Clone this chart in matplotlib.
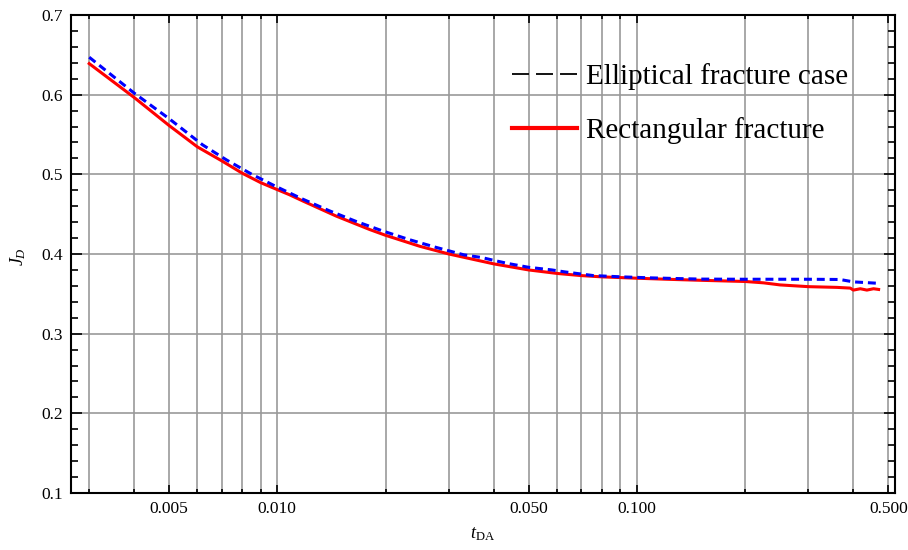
import numpy as np
import matplotlib
matplotlib.use('Agg')
import matplotlib.pyplot as plt
from matplotlib.lines import Line2D
from matplotlib.ticker import FixedLocator, FixedFormatter, MultipleLocator, NullFormatter

plt.rcParams['font.family'] = 'Liberation Serif'
plt.rcParams['mathtext.fontset'] = 'custom'
plt.rcParams['mathtext.rm'] = 'Liberation Serif'
plt.rcParams['mathtext.it'] = 'Liberation Serif:italic'

# dimensionless time vs productivity index
t_ellip = [0.003, 0.004, 0.005, 0.0062, 0.00723, 0.0085, 0.00985, 0.0117, 0.0139,
           0.0165, 0.0195, 0.0233, 0.0276, 0.03, 0.033, 0.0371, 0.04, 0.0439, 0.05,
           0.058, 0.0631, 0.0757, 0.0908, 0.11, 0.132, 0.15, 0.2, 0.3, 0.367, 0.4, 0.47]
jd_ellip = [0.647, 0.602, 0.570, 0.537, 0.518, 0.500, 0.4854, 0.4694, 0.4546,
            0.4412, 0.4294, 0.418, 0.4084, 0.404, 0.399, 0.3955, 0.392, 0.388, 0.3833,
            0.380, 0.3775, 0.3729, 0.3713, 0.370, 0.3691, 0.3685, 0.3683, 0.3683,
            0.3680, 0.3650, 0.3632]

t_rect = [0.003, 0.004, 0.005, 0.006, 0.007, 0.008, 0.009, 0.0108, 0.0118, 0.0146,
          0.0181, 0.02, 0.0249, 0.03, 0.04, 0.05, 0.06, 0.07, 0.08,
          0.1, 0.121, 0.15, 0.2, 0.225, 0.25, 0.3, 0.36, 0.392, 0.40, 0.418, 0.436,
          0.455, 0.47]
jd_rect = [0.639, 0.5965, 0.5614, 0.5344, 0.5171, 0.5013, 0.4895, 0.4745, 0.4664,
           0.4475, 0.4306, 0.4235, 0.4097, 0.400, 0.3876, 0.380, 0.3756, 0.3729,
           0.3713, 0.3696, 0.3683, 0.367, 0.3655, 0.3638, 0.3612, 0.359, 0.3581,
           0.3572, 0.3547, 0.3564, 0.3547, 0.3564, 0.3555]

x_major = [0.005, 0.01, 0.05, 0.1, 0.5]
x_major_labels = ['0.005', '0.010', '0.050', '0.100', '0.500']
x_grid = [0.003, 0.004, 0.005, 0.006, 0.007, 0.008, 0.009, 0.01, 0.02, 0.03, 0.04,
          0.05, 0.06, 0.07, 0.08, 0.09, 0.1, 0.2, 0.3, 0.4, 0.5]

fig = plt.figure(figsize=(9.08, 5.5), dpi=100)
ax = fig.add_axes([71 / 908, 57 / 550, 824 / 908, 478 / 550])

ax.set_xscale('log')
ax.set_xlim(0.00267, 0.522)
ax.set_ylim(0.1, 0.7)

for xv in x_grid:
    ax.axvline(xv, color='#999999', lw=1.2, zorder=1)
for yv in np.arange(0.2, 0.65, 0.1):
    ax.axhline(yv, color='#999999', lw=1.2, zorder=1)

ax.plot(t_rect, jd_rect, color='#ff0000', lw=2.2, zorder=3)
ax.plot(t_ellip, jd_ellip, color='#0000ff', lw=2.2, ls=(0, (2.6, 1.6)), zorder=4)

ax.xaxis.set_major_locator(FixedLocator(x_major))
ax.xaxis.set_major_formatter(FixedFormatter(x_major_labels))
ax.xaxis.set_minor_locator(FixedLocator([v for v in x_grid if v not in x_major]))
ax.xaxis.set_minor_formatter(NullFormatter())
ax.yaxis.set_major_locator(MultipleLocator(0.1))
ax.yaxis.set_minor_locator(MultipleLocator(0.02))
ax.yaxis.set_major_formatter(matplotlib.ticker.FormatStrFormatter('%.1f'))

ax.tick_params(which='both', direction='in', top=True, right=True, width=1.2,
               color='black', labelsize=12.5)
ax.tick_params(axis='x', which='major', length=6, pad=6)
ax.tick_params(axis='x', which='minor', length=3)
ax.tick_params(axis='y', which='major', length=8, pad=6)
ax.tick_params(axis='y', which='minor', length=5)
for sp in ax.spines.values():
    sp.set_linewidth(1.5)
    sp.set_zorder(5)

ax.set_xlabel(r'$t_{\mathrm{DA}}$', fontsize=13)
ax.xaxis.set_label_coords(0.5, -0.068)
ax.set_ylabel(r'$J_D$', fontsize=13)
ax.yaxis.set_label_coords(-0.052, 0.494)

handles = [Line2D([], [], color='black', lw=1.3, ls=(0, (9.4, 3.9))),
           Line2D([], [], color='#ff0000', lw=3)]
ax.legend(handles, ['Elliptical fracture case', 'Rectangular fracture'],
          loc='upper left', bbox_to_anchor=(0.535, 0.899), frameon=False,
          fontsize=21, handlelength=2.25, handletextpad=0.3, labelspacing=0.92,
          borderpad=0, borderaxespad=0)

fig.savefig('out.png', dpi=100, facecolor='white')
